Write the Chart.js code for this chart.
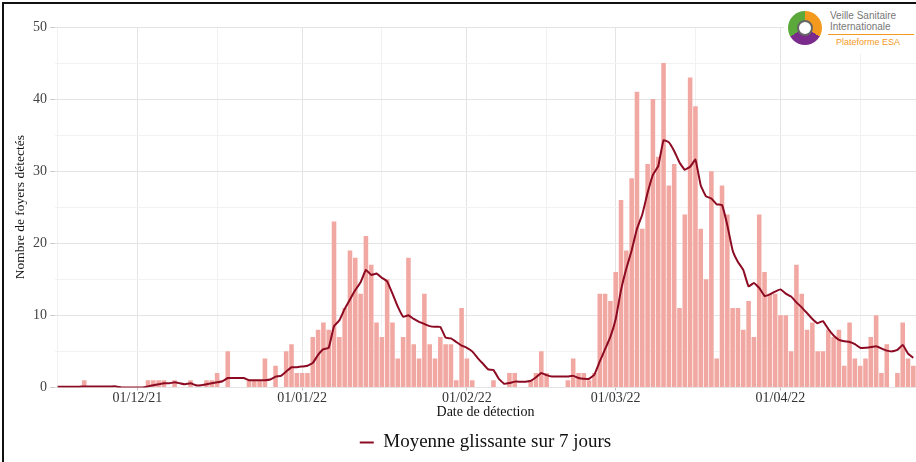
<!DOCTYPE html>
<html>
<head>
<meta charset="UTF-8">
<title>Foyers détectés</title>
<script src="https://cdn.jsdelivr.net/npm/chart.js@4.4.0/dist/chart.umd.min.js"></script>
<style>
  body { margin: 0; background: #fff; }
  #wrap { position: relative; width: 916px; height: 462px; }
  #frame { position: absolute; left: 2px; top: 2px; right: 0; bottom: 0; border-left: 2px solid #111; border-top: 2px solid #111; pointer-events: none; }
  #logo { position: absolute; left: 784px; top: 4px; width: 132px; height: 50px; background: #fff; font-family: "Liberation Sans", Arial, sans-serif; }
  #logo .icon { position: absolute; left: 4px; top: 7px; width: 34px; height: 34px; border-radius: 50%;
    background: conic-gradient(#f39a1e 0 120deg, #7a2b8c 120deg 240deg, #5aa93a 240deg 360deg); }
  #logo .icon::after { content: ""; position: absolute; left: 9px; top: 9px; width: 16px; height: 16px; border-radius: 50%; background: #fff; border: 2px solid #666; box-sizing: border-box; }
  #logo .t1 { position: absolute; left: 46px; top: 6px; font-size: 10px; line-height: 11px; color: #777; }
  #logo .bar { position: absolute; left: 44px; top: 30px; width: 86px; height: 1px; background: #f39a1e; }
  #logo .t2 { position: absolute; left: 52px; top: 33px; font-size: 9px; color: #f39a1e; }
</style>
</head>
<body>
<div id="wrap">
  <canvas id="chart" width="916" height="462"></canvas>
  <div id="frame"></div>
  <div id="logo">
    <div class="icon"></div>
    <div class="t1">Veille Sanitaire<br>Internationale</div>
    <div class="bar"></div>
    <div class="t2">Plateforme ESA</div>
  </div>
</div>

<script>
  // daily counts from 16/11/21 to 26/04/22
  var foyersNov = [0, 0, 0, 0, 0, 1, 0, 0, 0, 0, 0, 0, 0, 0, 0];
  var foyersDec = [0, 0, 1, 1, 1, 1, 0, 1, 0, 0, 1, 0, 0, 1, 1, 2, 0, 5, 0, 0, 0, 1, 1, 1, 4, 0, 3, 0, 5, 6, 2];
  var foyersJan = [2, 2, 7, 8, 9, 8, 23, 7, 11, 19, 18, 13, 21, 17, 9, 7, 15, 9, 4, 7, 18, 6, 4, 13, 6, 4, 7, 6, 6, 1, 11];
  var foyersFev = [4, 1, 0, 0, 0, 1, 0, 0, 2, 2, 0, 0, 1, 2, 5, 2, 0, 0, 0, 1, 4, 2, 2, 1, 2, 13, 13, 12];
  var foyersMar = [16, 26, 19, 29, 41, 22, 31, 40, 32, 45, 28, 31, 11, 24, 43, 39, 22, 15, 30, 4, 28, 24, 11, 11, 8, 12, 7, 24, 16, 13, 13];
  var foyersAvr = [10, 10, 5, 17, 13, 8, 9, 5, 5, 8, 7, 8, 3, 9, 4, 3, 4, 7, 10, 2, 6, 0, 2, 9, 4, 3];

  // moyenne glissante
  var moyNov = [0.1, 0.1, 0.1, 0.1, 0.1, 0.14, 0.14, 0.14, 0.14, 0.14, 0.14, 0.14, 0, 0, 0];
  var moyDec = [0, 0, 0.14, 0.29, 0.43, 0.57, 0.57, 0.71, 0.57, 0.43, 0.57, 0.29, 0.29, 0.43, 0.57, 0.71, 0.86, 1.3, 1.3, 1.3, 1.3, 1.0, 1.0, 1.0, 1.0, 1.1, 1.5, 1.6, 2.2, 2.8, 2.8];
  var moyJan = [2.9, 3.0, 3.4, 4.5, 5.3, 5.5, 8.5, 9.3, 10.9, 12.2, 13.5, 14.6, 16.3, 15.6, 15.8, 15.2, 14.7, 13.0, 11.2, 9.8, 10.0, 9.5, 9.1, 8.8, 8.5, 8.4, 8.4, 6.9, 6.8, 6.3, 5.8];
  var moyFev = [5.5, 5.0, 4.1, 3.3, 2.5, 2.4, 1.2, 0.5, 0.6, 0.8, 0.8, 0.8, 0.9, 1.4, 2.0, 1.7, 1.5, 1.5, 1.5, 1.5, 1.6, 1.3, 1.2, 1.2, 1.8, 3.6, 5.3, 7.0];
  var moyMar = [9.5, 13.5, 16.5, 19.0, 22.0, 24.0, 27.0, 29.5, 30.7, 34.3, 34.0, 32.8, 31.2, 30.2, 30.6, 31.6, 28.0, 26.5, 26.2, 25.4, 25.3, 22.5, 19.0, 17.4, 16.3, 14.0, 14.5, 13.8, 12.7, 12.9, 13.3];
  var moyAvr = [13.6, 13.0, 12.6, 11.8, 11.1, 10.3, 9.5, 8.9, 9.2, 8.1, 7.2, 6.6, 6.4, 6.3, 6.0, 5.5, 5.5, 5.6, 5.7, 5.4, 5.1, 5.0, 5.2, 5.9, 4.7, 4.1];

  var tickLabels = ['01/12/21', '01/01/22', '01/02/22', '01/03/22', '01/04/22'];

  var foyers = [].concat(foyersNov, foyersDec, foyersJan, foyersFev, foyersMar, foyersAvr);
  var moyenne = [].concat(moyNov, moyDec, moyJan, moyFev, moyMar, moyAvr);

  // one category per day
  var labels = [];
  var start = new Date(2021, 10, 16);
  for (var i = 0; i < foyers.length; i++) {
    var d = new Date(start.getFullYear(), start.getMonth(), start.getDate() + i);
    var dd = ('0' + d.getDate()).slice(-2);
    var mm = ('0' + (d.getMonth() + 1)).slice(-2);
    labels.push(dd + '/' + mm + '/' + String(d.getFullYear()).slice(-2));
  }

  function xGrid(ctx) {
    var lab = labels[ctx.index] || '';
    if (tickLabels.indexOf(lab) >= 0) return '#e4e4e4';
    if (lab.slice(0, 2) === '16') return '#f1f1f1';
    return 'rgba(0,0,0,0)';
  }

  Chart.defaults.font.family = '"Liberation Serif", "DejaVu Serif", serif';

  new Chart(document.getElementById('chart'), {
    type: 'bar',
    data: {
      labels: labels,
      datasets: [
        {
          label: 'Foyers',
          data: foyers,
          backgroundColor: '#f2a8a2',
          borderWidth: 0,
          barPercentage: 0.86,
          categoryPercentage: 1,
          order: 1
        },
        {
          type: 'line',
          label: 'Moyenne glissante sur 7 jours',
          data: moyenne,
          borderColor: '#8c0b22',
          backgroundColor: '#8c0b22',
          borderWidth: 2,
          pointRadius: 0,
          tension: 0.1,
          order: 0
        }
      ]
    },
    options: {
      responsive: false,
      animation: false,
      layout: { padding: { left: 12, right: 0, top: 27, bottom: 0 } },
      plugins: {
        tooltip: { enabled: false },
        legend: {
          position: 'bottom',
          fullSize: false,
          labels: {
            filter: function (item) { return item.datasetIndex === 1; },
            usePointStyle: true,
            pointStyle: 'line',
            pointStyleWidth: 14,
            color: '#111',
            font: { size: 19 },
            padding: 12
          }
        }
      },
      scales: {
        x: {
          offset: true,
          border: { display: false },
          grid: { offset: false, color: xGrid, tickColor: function (ctx) {
            return tickLabels.indexOf(labels[ctx.index]) >= 0 ? '#bbb' : 'rgba(0,0,0,0)';
          }, tickLength: 3 },
          ticks: {
            autoSkip: false,
            maxRotation: 0,
            color: '#333',
            font: { size: 14 },
            padding: 0,
            callback: function (v, i) {
              return tickLabels.indexOf(labels[i]) >= 0 ? labels[i] : '';
            }
          },
          title: { display: true, text: 'Date de détection', color: '#111', font: { size: 14 }, padding: { top: -3, bottom: 0 } }
        },
        y: {
          min: 0,
          max: 50,
          border: { display: false },
          afterFit: function (s) { s.width = 43; },
          grid: {
            color: function (ctx) { return ctx.tick.value % 10 === 0 ? '#e4e4e4' : '#f2f2f2'; },
            tickColor: function (ctx) { return ctx.tick.value % 10 === 0 ? '#ccc' : 'rgba(0,0,0,0)'; },
            tickLength: 5
          },
          ticks: {
            stepSize: 5,
            color: '#444',
            font: { size: 14 },
            padding: 3,
            callback: function (v) { return v % 10 === 0 ? v : ''; }
          },
          title: { display: true, text: 'Nombre de foyers détectés', color: '#111', font: { size: 13.5 }, padding: { top: 0, bottom: 2 } }
        }
      }
    }
  });
</script>
</body>
</html>
